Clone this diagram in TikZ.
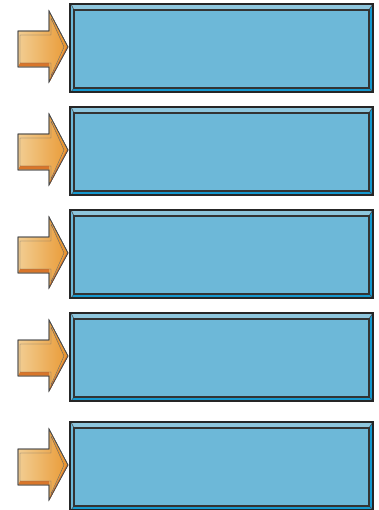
\documentclass[tikz,border=0pt]{standalone}
\begin{document}
\begin{tikzpicture}[x=1pt,y=-1pt,
  frame/.style={fill=boxmid,draw=black!85,line width=1.6pt,line join=miter},
  innerframe/.style={fill=boxmid,draw=black!80,line width=1.2pt},
  topband/.style={fill=boxlight,draw=black!70,line width=0.5pt},
  sideband/.style={fill=boxdark,draw=black!70,line width=0.5pt},
  arrowbody/.style={left color=arrlight,right color=arrdark,draw=black!70,line width=0.7pt,line join=miter},
  arrowshadow/.style={fill=arrshadow,draw=none}]
\definecolor{boxmid}{HTML}{6DB8D8}
\definecolor{boxlight}{HTML}{8EC6DD}
\definecolor{boxdark}{HTML}{1598CF}
\definecolor{arrlight}{HTML}{F2CD92}
\definecolor{arrdark}{HTML}{E99A35}
\definecolor{arrshadow}{HTML}{D9762A}
\useasboundingbox (0,0) rectangle (379,510);
\foreach \t in {4,107,210,313,422}{
  \begin{scope}[shift={(0,\t)}]
    % box
    \path[frame] (70,0) rectangle (373,88);
    \path[topband] (71,0) -- (373,0) -- (369,6) -- (74,6) -- cycle;
    \path[sideband] (373,0) -- (373,88) -- (369,84) -- (369,6) -- cycle;
    \path[sideband] (71,88) -- (373,88) -- (369,84) -- (74,84) -- cycle;
    \path[innerframe] (74,6) rectangle (369,84);
    \draw[black!85,line width=1.6pt] (70,0) rectangle (373,88);
    % arrow
    \shade[arrowbody] (18,27) -- (49,27) -- (49,7) -- (68,43) -- (49,78) -- (49,63) -- (18,63) -- cycle;
    \path[arrowshadow] (20,59) -- (49,59) -- (49,62.5) -- (18.5,62.5) -- cycle;
    \path[arrowshadow] (66.5,43) -- (50,74) -- (50,77) -- (67.5,43) -- cycle;
    \path[fill=arrdark!85!arrshadow] (51,14) -- (64,43) -- (66.5,43) -- (50,11) -- cycle;
    \draw[black!60,line width=0.4pt] (20,59) -- (20,31) -- (51,31) -- (51,14) -- (64,43) -- (51,72) -- (51,59) -- cycle;
    \draw[arrowbody,shade=false,fill=none] (18,27) -- (49,27) -- (49,7) -- (68,43) -- (49,78) -- (49,63) -- (18,63) -- cycle;
  \end{scope}
}
\end{tikzpicture}
\end{document}
